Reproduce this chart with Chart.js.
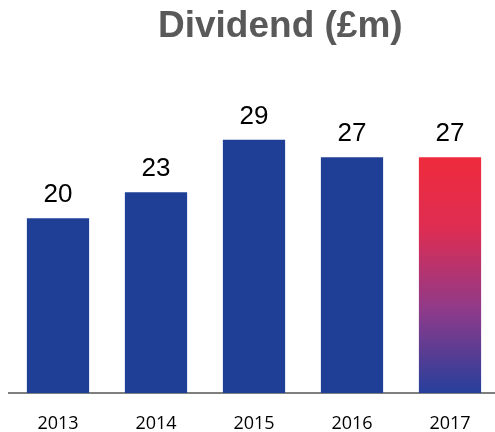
<!DOCTYPE html>
<html>
<head>
<meta charset="utf-8">
<script src="https://cdn.jsdelivr.net/npm/chart.js@4"></script>
<style>
  html, body { margin: 0; padding: 0; background: #fff; overflow: hidden; }
  #wrap { width: 500px; height: 432px; }
</style>
</head>
<body>
<div id="wrap"><canvas id="dividend"></canvas></div>
<script>
const years = ['2013', '2014', '2015', '2016', '2017'];
const dividends = [20, 23, 29, 27, 27];
const titleText = 'Dividend (£m)';

const blue = '#1f3f97';

// custom title, sits right of centre like the original slide
const titlePlugin = {
  id: 'slideTitle',
  afterDraw(chart) {
    const ctx = chart.ctx;
    ctx.save();
    ctx.font = 'bold 37px "Liberation Sans", Arial, sans-serif';
    ctx.fillStyle = '#595959';
    ctx.textAlign = 'left';
    ctx.textBaseline = 'alphabetic';
    ctx.fillText(titleText, 158, 37);
    ctx.restore();
  }
};

// value labels above each bar
const valueLabels = {
  id: 'valueLabels',
  afterDatasetsDraw(chart) {
    const ctx = chart.ctx;
    const meta = chart.getDatasetMeta(0);
    ctx.save();
    ctx.font = '26px "Liberation Sans", Arial, sans-serif';
    ctx.fillStyle = '#000';
    ctx.textAlign = 'center';
    ctx.textBaseline = 'alphabetic';
    meta.data.forEach((bar, i) => {
      ctx.fillText(dividends[i], bar.x, bar.y - 16);
    });
    ctx.restore();
  }
};

function barColor(context) {
  const chart = context.chart;
  if (context.dataIndex !== years.length - 1) return blue;
  const area = chart.chartArea;
  if (!area) return blue;
  const y = chart.scales.y;
  const top = y.getPixelForValue(dividends[context.dataIndex]);
  const g = chart.ctx.createLinearGradient(0, top, 0, area.bottom);
  g.addColorStop(0, '#ef2b3c');
  g.addColorStop(0.3, '#de2d52');
  g.addColorStop(0.65, '#8e3a8a');
  g.addColorStop(1, '#263f9b');
  return g;
}

new Chart(document.getElementById('dividend'), {
  type: 'bar',
  data: {
    labels: years,
    datasets: [{
      label: 'Dividend',
      data: dividends,
      backgroundColor: barColor,
      borderWidth: 0,
      barPercentage: 0.635,
      categoryPercentage: 1.0
    }]
  },
  options: {
    responsive: true,
    maintainAspectRatio: false,
    animation: false,
    layout: { padding: { left: 9, right: 1, top: 0, bottom: 0 } },
    plugins: {
      legend: { display: false },
      tooltip: { enabled: false }
    },
    scales: {
      x: {
        grid: { display: false },
        border: { display: true, color: '#7f7f7f', width: 2 },
        afterFit(scale) { scale.height = 39; },
        ticks: {
          color: '#000',
          padding: 12,
          font: { family: '"Open Sans", Lato, sans-serif', size: 18 }
        }
      },
      y: {
        display: false,
        min: 0,
        max: 45
      }
    }
  },
  plugins: [titlePlugin, valueLabels]
});
</script>
</body>
</html>
